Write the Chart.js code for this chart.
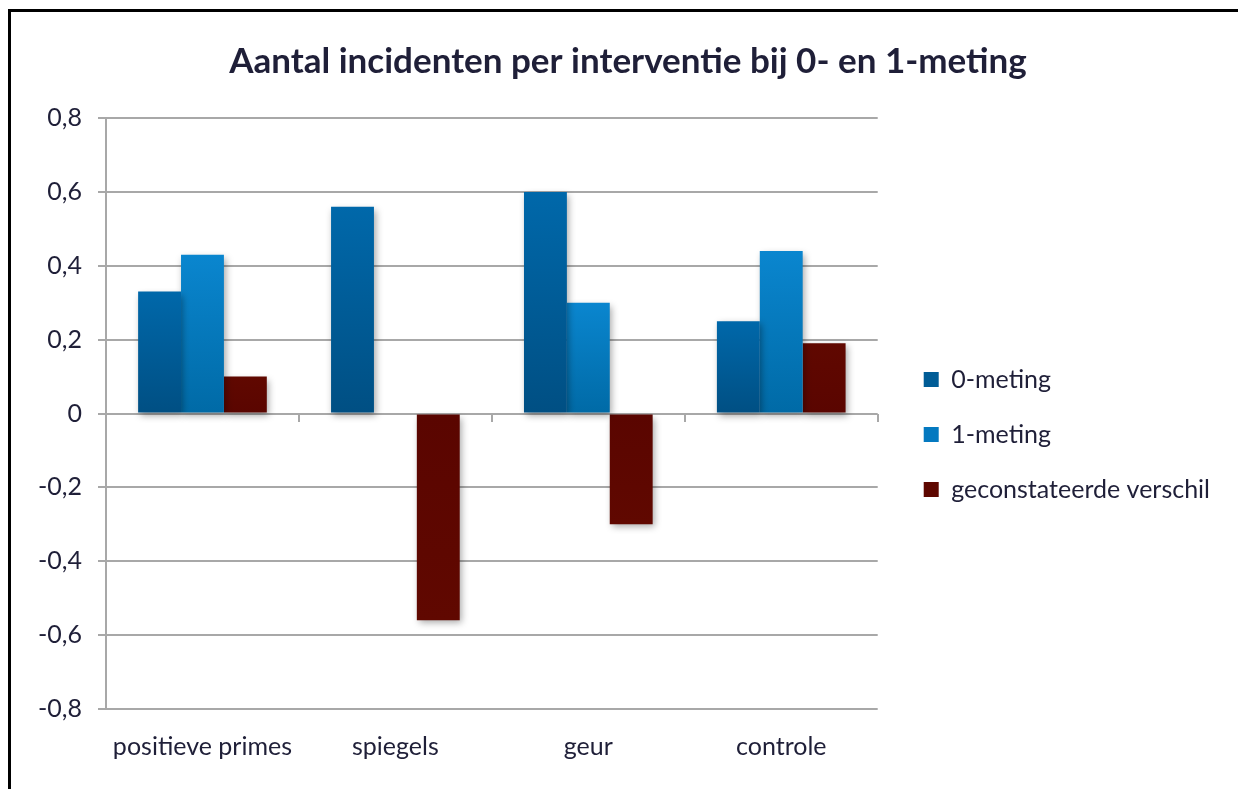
<!DOCTYPE html>
<html>
<head>
<meta charset="utf-8">
<script src="https://cdn.jsdelivr.net/npm/chart.js@4"></script>
<style>
  html, body { margin: 0; padding: 0; background: #fff; }
  #wrap { position: relative; width: 1238px; height: 789px; overflow: hidden; }
  #frame {
    position: absolute; left: 8px; top: 9px; width: 1250px; height: 800px;
    border-top: 3px solid #000; border-left: 3px solid #000; pointer-events: none;
  }
</style>
</head>
<body>
<div id="wrap">
  <canvas id="myChart" width="1238" height="789"></canvas>
  <div id="frame"></div>
</div>
<script>
var categories = ['positieve primes', 'spiegels', 'geur', 'controle'];
var nulMeting = [0.33, 0.56, 0.60, 0.25];
var eenMeting = [0.43, 0, 0.30, 0.44];
var verschil = [0.10, -0.56, -0.30, 0.19];
var yMin = -0.8, yMax = 0.8, yStep = 0.2;

var textColor = '#1f1f38';
var gridColor = '#a8a8a8';
var font = 'Lato, "Open Sans", sans-serif';

// vertical gradient from the zero line to the end of each bar
function barFill(top, bottom) {
  return function (context) {
    var chart = context.chart;
    if (!chart.chartArea || context.type !== 'data') return bottom;
    var y = chart.scales.y;
    var y0 = y.getPixelForValue(0);
    var y1 = y.getPixelForValue(context.raw);
    if (Math.abs(y0 - y1) < 1) return bottom;
    var g = chart.ctx.createLinearGradient(0, y0, 0, y1);
    g.addColorStop(0, bottom);
    g.addColorStop(1, top);
    return g;
  };
}

var legendColors = ['#005c96', '#0479c0', '#5e0700'];

// soft drop shadow under the bars
var barShadow = {
  id: 'barShadow',
  beforeDatasetsDraw: function (chart) {
    var c = chart.ctx;
    c.save();
    c.shadowColor = 'rgba(0,0,0,0.35)';
    c.shadowBlur = 7;
    c.shadowOffsetX = 2;
    c.shadowOffsetY = 3;
  },
  afterDatasetsDraw: function (chart) {
    chart.ctx.restore();
  }
};

function fmt(v) {
  if (Math.abs(v) < 1e-9) return '0';
  return v.toFixed(1).replace('.', ',');
}

var ctx = document.getElementById('myChart').getContext('2d');
var myChart = new Chart(ctx, {
  type: 'bar',
  data: {
    labels: categories,
    datasets: [{
      label: '0-meting',
      data: nulMeting,
      backgroundColor: barFill('#0068aa', '#004f83')
    }, {
      label: '1-meting',
      data: eenMeting,
      backgroundColor: barFill('#0a86cf', '#006aa6')
    }, {
      label: 'geconstateerde verschil',
      data: verschil,
      backgroundColor: barFill('#600800', '#5a0500')
    }]
  },
  plugins: [barShadow],
  options: {
    responsive: false,
    animation: false,
    categoryPercentage: 0.667,
    barPercentage: 1.0,
    layout: { padding: { left: 36, right: 18, top: 0, bottom: 12 } },
    plugins: {
      title: {
        display: true,
        text: 'Aantal incidenten per interventie bij 0- en 1-meting',
        color: textColor,
        font: { family: font, size: 35, weight: 'bold' },
        padding: { top: 41, bottom: 35 }
      },
      legend: {
        position: 'right',
        maxWidth: 400,
        title: {
          display: true,
          text: ' ',
          font: { family: font, size: 25 },
          padding: { top: 31, bottom: 31 }
        },
        labels: {
          color: textColor,
          font: { family: font, size: 25 },
          boxWidth: 15,
          boxHeight: 15,
          padding: 30,
          generateLabels: function (chart) {
            return chart.data.datasets.map(function (ds, i) {
              return {
                text: ds.label,
                fillStyle: legendColors[i],
                strokeStyle: legendColors[i],
                lineWidth: 0,
                fontColor: textColor,
                datasetIndex: i
              };
            });
          }
        }
      },
      tooltip: { enabled: false }
    },
    scales: {
      x: {
        grid: { display: false },
        border: { display: false },
        ticks: { color: textColor, font: { family: font, size: 25 }, padding: 15 }
      },
      xZero: {
        type: 'category',
        position: { y: 0 },
        offset: true,
        grid: { offset: true, drawOnChartArea: false, tickLength: 8, color: gridColor, lineWidth: 2 },
        border: { display: false },
        ticks: { display: false }
      },
      y: {
        min: yMin,
        max: yMax,
        afterFit: function (scale) { scale.width = 70; },
        ticks: {
          stepSize: yStep,
          color: textColor,
          font: { family: font, size: 25 },
          padding: 16,
          callback: function (v) { return fmt(v); }
        },
        grid: { color: gridColor, lineWidth: 2, tickLength: 8 },
        border: { display: true, color: gridColor, width: 2 }
      },
      // empty strip between the plot and the legend
      gap: {
        type: 'linear',
        position: 'right',
        afterFit: function (scale) { scale.width = 16; },
        grid: { display: false },
        border: { display: false },
        ticks: { display: false }
      }
    }
  }
});
</script>
</body>
</html>
